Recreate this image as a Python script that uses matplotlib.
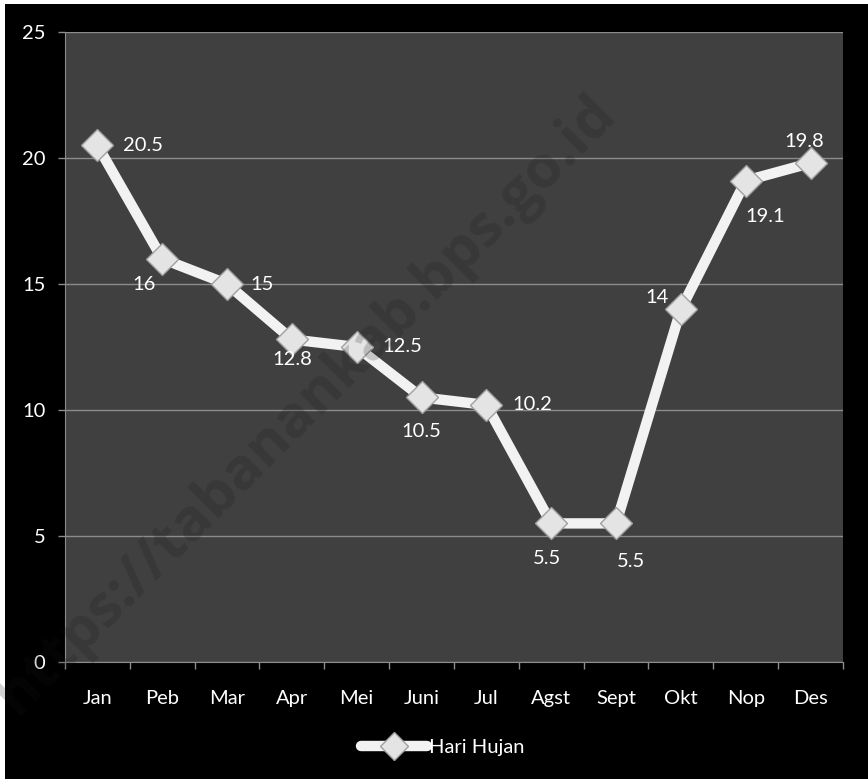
import matplotlib
matplotlib.use("Agg")
import matplotlib.pyplot as plt
from matplotlib.patches import Rectangle
from matplotlib.lines import Line2D

months = ['Jan', 'Peb', 'Mar', 'Apr', 'Mei', 'Juni', 'Jul', 'Agst', 'Sept', 'Okt', 'Nop', 'Des']
hari_hujan = [20.5, 16, 15, 12.8, 12.5, 10.5, 10.2, 5.5, 5.5, 14, 19.1, 19.8]
y_ticks = [0, 5, 10, 15, 20, 25]

# label offsets in pixels (dx, dy, ha)
label_pos = [(26, 0, 'left'), (-18, -26, 'center'), (23, 0, 'left'), (0, -20, 'center'),
             (26, 0, 'left'), (0, -34, 'center'), (26, 0, 'left'), (-4, -35, 'center'),
             (15, -38, 'center'), (-24, 12, 'center'), (19, -36, 'center'), (-6, 22, 'center')]

plt.rcParams['font.family'] = ['Lato', 'DejaVu Sans']
fs = 14.5

fig = plt.figure(figsize=(8.68, 7.82), dpi=100, facecolor='white')
fig.patches.append(Rectangle((5/868, 3/782), 1 - 5/868, 1 - 7/782, transform=fig.transFigure,
                             facecolor='black', edgecolor='none', zorder=-5))

ax = fig.add_axes([65/868, 1 - 662/782, 778/868, 630/782])
ax.set_facecolor('#404040')
x = list(range(len(months)))

ax.plot(x, hari_hujan, color='#f2f2f2', lw=7.5, marker='D', markersize=16,
        markerfacecolor='#e4e4e4', markeredgecolor='#a0a0a0', markeredgewidth=1,
        solid_joinstyle='round', zorder=3, label='Hari Hujan')

for i, v in enumerate(hari_hujan):
    dx, dy, ha = label_pos[i]
    ax.annotate(f'{v:g}', (i, v), xytext=(dx*0.72, dy*0.72), textcoords='offset points',
                ha=ha, va='center', color='white', fontsize=fs, zorder=4)

ax.set_xlim(-0.5, 11.5)
ax.set_ylim(0, 25)
ax.set_yticks(y_ticks)
ax.set_yticklabels([str(t) for t in y_ticks])
ax.yaxis.grid(True, color='#8c8c8c', lw=1)
ax.set_axisbelow(True)
ax.set_xticks(x)
ax.set_xticklabels(months)
ax.set_xticks([i - 0.5 for i in range(13)], minor=True)
ax.tick_params(axis='x', which='major', length=0, pad=20, colors='white', labelsize=fs)
ax.tick_params(axis='x', which='minor', length=5, color='#8c8c8c', width=1)
ax.tick_params(axis='y', length=5, width=1, pad=9, colors='white', labelsize=fs)
ax.tick_params(axis='y', color='#8c8c8c')
for s in ['top', 'right']:
    ax.spines[s].set_visible(False)
for s in ['left', 'bottom']:
    ax.spines[s].set_color('#8c8c8c')

# watermark
fig.text(0.353, 0.482, 'https://tabanankab.bps.go.id', rotation=45, ha='center', va='center',
         fontsize=42, fontweight='bold', family='Open Sans', color='#191919', alpha=0.2, zorder=2)

handle = Line2D([], [], color='#f2f2f2', lw=7.5, marker='D', markersize=14,
                markerfacecolor='#e4e4e4', markeredgecolor='#a0a0a0', solid_capstyle='round')
fig.legend([handle], ['Hari Hujan'], loc='center', bbox_to_anchor=(0.51, 1 - 747/782),
           frameon=False, labelcolor='white', fontsize=fs, handlelength=3.3, handletextpad=0.1)

fig.savefig('out.png', dpi=100, facecolor=fig.get_facecolor())
